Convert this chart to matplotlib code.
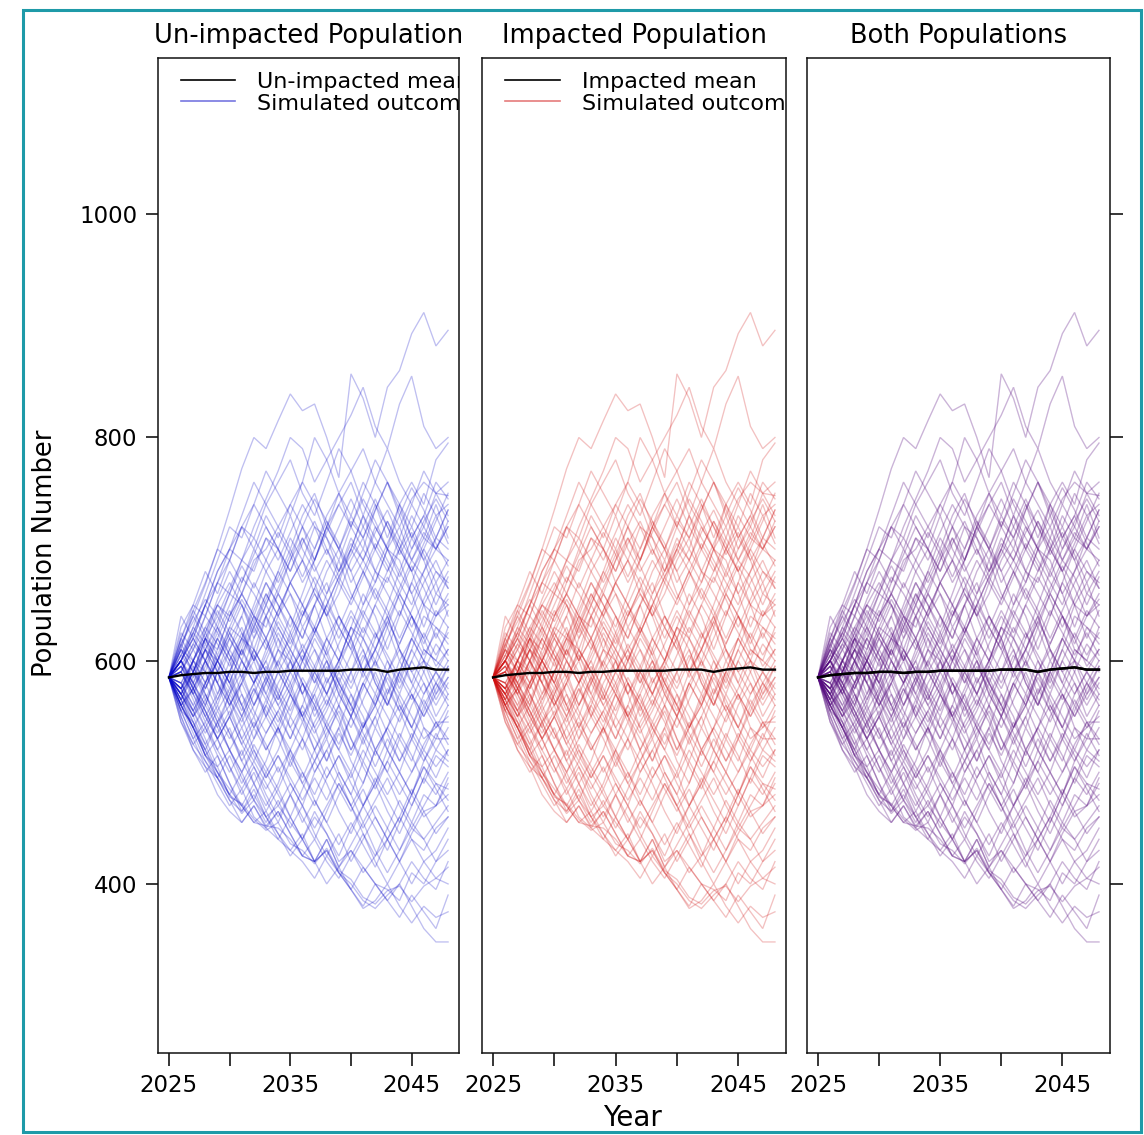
import matplotlib
matplotlib.use("Agg")
import matplotlib.pyplot as plt
from matplotlib.patches import Rectangle

plt.rcParams['font.family'] = ['DejaVu Sans']

years = list(range(2025, 2049))

panel_titles = ["Un-impacted Population", "Impacted Population", "Both Populations"]
legend_unimpacted = ["Un-impacted mean", "Simulated outcomes"]
legend_impacted = ["Impacted mean", "Simulated outcomes"]
x_ticks = [2025, 2030, 2035, 2040, 2045]
x_tick_labels = ["2025", "", "2035", "", "2045"]
y_ticks = [400, 600, 800, 1000]
y_tick_labels = ["400", "600", "800", "1000"]

unimpacted_mean = [585, 587, 588, 589, 589, 590, 590, 589, 590, 590, 591, 591,
                   591, 591, 591, 592, 592, 592, 590, 592, 593, 594, 592, 592]
impacted_mean = [585, 587, 588, 589, 589, 590, 590, 589, 590, 590, 591, 591,
                 591, 591, 591, 592, 592, 592, 590, 592, 593, 594, 592, 592]

unimpacted_sims = [
    [585, 612, 640, 668, 700, 735, 772, 800, 790, 815, 839, 824, 830, 800, 764, 857, 835, 800, 845, 860, 893, 912, 882, 896],
    [585, 600, 625, 650, 680, 700, 690, 720, 745, 770, 800, 790, 760, 780, 800, 820, 845, 810, 790, 830, 855, 810, 790, 800],
    [585, 630, 650, 640, 670, 700, 720, 710, 740, 760, 780, 750, 730, 760, 790, 770, 740, 720, 700, 740, 760, 740, 780, 795],
    [585, 570, 600, 620, 610, 640, 660, 690, 700, 720, 740, 760, 800, 780, 750, 770, 790, 760, 740, 720, 745, 760, 750, 748],
    [585, 605, 590, 620, 650, 640, 670, 700, 680, 660, 690, 720, 700, 730, 750, 720, 700, 735, 760, 740, 710, 730, 760, 745],
    [585, 560, 580, 610, 600, 630, 620, 650, 680, 700, 670, 690, 720, 710, 680, 700, 730, 700, 680, 710, 740, 720, 700, 720],
    [585, 620, 600, 580, 610, 640, 660, 640, 670, 650, 630, 660, 690, 720, 700, 680, 650, 670, 700, 690, 660, 680, 710, 700],
    [585, 600, 620, 650, 630, 610, 640, 670, 650, 680, 710, 690, 660, 640, 670, 700, 730, 710, 690, 670, 650, 680, 700, 690],
    [585, 575, 600, 590, 560, 590, 620, 610, 640, 660, 640, 620, 650, 680, 700, 670, 690, 720, 700, 680, 710, 690, 660, 680],
    [585, 610, 590, 620, 640, 620, 600, 630, 660, 640, 670, 690, 670, 640, 660, 690, 710, 680, 660, 640, 670, 700, 680, 670],
    [585, 590, 570, 600, 630, 660, 650, 620, 640, 610, 640, 620, 650, 670, 640, 620, 650, 680, 670, 700, 680, 650, 640, 660],
    [585, 565, 590, 620, 600, 580, 610, 640, 630, 660, 640, 610, 630, 660, 690, 660, 640, 620, 650, 680, 660, 630, 660, 650],
    [585, 600, 625, 610, 590, 620, 600, 580, 610, 640, 660, 630, 650, 620, 600, 630, 660, 640, 610, 640, 670, 650, 620, 645],
    [585, 570, 550, 580, 600, 620, 640, 610, 590, 620, 600, 630, 610, 580, 600, 630, 620, 650, 630, 600, 620, 650, 670, 640],
    [585, 600, 580, 560, 590, 610, 590, 620, 650, 630, 610, 640, 660, 640, 610, 590, 620, 600, 630, 660, 640, 610, 600, 630],
    [585, 615, 640, 620, 600, 580, 610, 590, 570, 600, 620, 600, 580, 610, 640, 620, 590, 570, 600, 580, 610, 640, 630, 620],
    [585, 560, 575, 600, 580, 610, 630, 600, 620, 590, 570, 600, 630, 610, 580, 560, 590, 620, 640, 610, 590, 600, 630, 615],
    [585, 595, 570, 590, 620, 600, 570, 550, 580, 610, 600, 570, 590, 620, 600, 630, 610, 580, 560, 590, 620, 600, 590, 610],
    [585, 575, 600, 620, 590, 560, 580, 610, 590, 570, 600, 580, 550, 570, 600, 620, 590, 610, 640, 610, 580, 560, 580, 600],
    [585, 600, 575, 550, 570, 600, 620, 600, 640, 620, 590, 610, 580, 600, 570, 550, 580, 600, 570, 590, 620, 600, 570, 595],
    [585, 570, 590, 610, 580, 550, 570, 540, 560, 590, 610, 590, 620, 600, 570, 590, 560, 540, 570, 600, 580, 610, 600, 590],
    [585, 600, 620, 600, 570, 590, 560, 580, 600, 570, 550, 580, 560, 530, 560, 590, 610, 580, 560, 590, 570, 550, 570, 585],
    [585, 560, 540, 560, 590, 570, 600, 580, 550, 580, 600, 570, 540, 560, 590, 570, 540, 560, 590, 570, 600, 580, 560, 580],
    [585, 595, 580, 560, 540, 570, 590, 560, 580, 600, 580, 550, 570, 540, 520, 550, 580, 560, 590, 560, 540, 570, 590, 575],
    [585, 575, 555, 580, 600, 580, 560, 530, 550, 570, 540, 560, 590, 570, 550, 520, 540, 570, 550, 530, 560, 580, 550, 570],
    [585, 600, 580, 555, 530, 550, 580, 600, 570, 550, 530, 560, 540, 510, 540, 570, 550, 520, 540, 570, 550, 530, 540, 560],
    [585, 565, 590, 570, 545, 560, 530, 550, 520, 540, 570, 550, 520, 540, 560, 530, 510, 540, 520, 550, 570, 540, 530, 555],
    [585, 580, 560, 540, 560, 535, 510, 530, 560, 540, 510, 530, 560, 540, 520, 500, 530, 550, 520, 500, 530, 560, 540, 550],
    [585, 560, 540, 520, 545, 570, 550, 520, 500, 520, 550, 530, 500, 520, 540, 510, 490, 520, 500, 530, 510, 540, 520, 540],
    [585, 590, 565, 540, 520, 540, 510, 490, 510, 540, 520, 490, 510, 530, 500, 480, 510, 490, 520, 500, 480, 510, 530, 530],
    [585, 570, 550, 570, 545, 520, 500, 520, 495, 515, 490, 470, 500, 520, 495, 470, 490, 520, 500, 480, 500, 520, 505, 520],
    [585, 555, 530, 545, 520, 500, 520, 490, 470, 490, 520, 500, 475, 455, 480, 500, 470, 490, 510, 490, 470, 495, 520, 510],
    [585, 580, 555, 530, 505, 520, 495, 475, 500, 480, 460, 485, 510, 490, 465, 445, 470, 490, 465, 445, 470, 495, 480, 500],
    [585, 565, 540, 515, 530, 505, 480, 500, 475, 455, 480, 460, 440, 465, 490, 470, 445, 425, 450, 475, 455, 480, 470, 495],
    [585, 545, 525, 540, 515, 490, 470, 490, 465, 485, 460, 440, 465, 445, 425, 450, 470, 450, 430, 455, 480, 460, 470, 490],
    [585, 575, 550, 525, 500, 480, 500, 475, 455, 475, 450, 470, 445, 425, 445, 420, 440, 460, 440, 420, 445, 465, 470, 480],
    [585, 550, 520, 500, 515, 490, 465, 485, 460, 440, 460, 440, 420, 440, 415, 435, 455, 430, 410, 430, 450, 440, 455, 470],
    [585, 560, 535, 510, 490, 470, 485, 460, 450, 465, 445, 425, 440, 420, 405, 425, 445, 420, 400, 420, 440, 430, 450, 460],
    [585, 570, 545, 520, 495, 475, 455, 470, 452, 465, 445, 425, 420, 440, 415, 430, 410, 425, 440, 420, 400, 420, 430, 450],
    [585, 555, 530, 505, 495, 480, 463, 475, 460, 470, 455, 440, 460, 445, 420, 430, 415, 400, 395, 385, 410, 400, 420, 440],
    [585, 545, 520, 505, 480, 465, 455, 470, 450, 440, 430, 445, 420, 430, 410, 395, 415, 400, 385, 400, 420, 405, 395, 420],
    [585, 555, 545, 515, 505, 478, 472, 458, 448, 455, 436, 430, 418, 432, 412, 404, 388, 382, 394, 398, 384, 398, 405, 400],
    [585, 550, 525, 510, 495, 475, 465, 480, 460, 445, 425, 440, 420, 400, 415, 395, 380, 400, 385, 370, 390, 375, 360, 390],
    [585, 565, 540, 515, 500, 485, 470, 455, 465, 445, 430, 420, 405, 425, 410, 395, 378, 385, 400, 380, 365, 380, 370, 375],
    [585, 560, 540, 520, 500, 480, 470, 455, 452, 450, 440, 425, 420, 430, 410, 400, 385, 378, 390, 400, 380, 360, 348, 348],
    [585, 620, 650, 680, 660, 690, 720, 700, 730, 710, 740, 720, 690, 720, 750, 730, 760, 740, 710, 740, 720, 750, 730, 740],
    [585, 640, 620, 650, 680, 700, 730, 760, 740, 720, 700, 730, 750, 720, 700, 730, 710, 740, 720, 700, 730, 710, 700, 720],
    [585, 610, 645, 670, 700, 690, 720, 740, 770, 750, 730, 760, 740, 710, 690, 720, 750, 780, 760, 730, 700, 720, 750, 730],
    [585, 600, 630, 660, 690, 720, 710, 740, 720, 700, 680, 710, 690, 720, 740, 760, 730, 760, 790, 760, 740, 770, 750, 760],
    [585, 625, 610, 640, 670, 660, 690, 680, 710, 700, 730, 700, 680, 700, 680, 710, 690, 670, 700, 720, 690, 710, 740, 710],
    [585, 595, 615, 640, 625, 650, 675, 660, 640, 665, 690, 710, 685, 660, 680, 705, 690, 715, 735, 710, 690, 715, 700, 725],
    [585, 570, 590, 575, 600, 625, 605, 630, 655, 680, 660, 640, 665, 690, 670, 650, 675, 700, 725, 700, 680, 705, 730, 705],
    [585, 605, 630, 615, 645, 625, 605, 635, 615, 595, 625, 650, 675, 655, 630, 655, 680, 660, 640, 665, 690, 675, 650, 675],
    [585, 580, 600, 630, 615, 595, 620, 645, 670, 650, 625, 600, 625, 650, 675, 700, 680, 655, 680, 700, 720, 695, 670, 690],
    [585, 615, 595, 575, 600, 625, 650, 630, 610, 635, 615, 640, 665, 645, 620, 645, 625, 650, 675, 655, 630, 655, 680, 665],
    [585, 590, 610, 590, 565, 590, 615, 640, 620, 595, 575, 600, 625, 605, 580, 605, 630, 610, 635, 660, 640, 615, 640, 655],
    [585, 565, 585, 610, 630, 605, 585, 560, 585, 610, 590, 615, 595, 570, 595, 620, 645, 625, 600, 575, 600, 625, 605, 625],
    [585, 600, 580, 600, 625, 605, 585, 610, 590, 565, 590, 570, 595, 620, 640, 615, 590, 610, 590, 615, 640, 620, 595, 610],
    [585, 575, 555, 575, 600, 580, 555, 580, 600, 625, 605, 580, 555, 580, 600, 580, 605, 585, 560, 585, 565, 590, 615, 600],
    [585, 590, 570, 545, 565, 590, 610, 585, 565, 590, 570, 545, 570, 595, 575, 550, 575, 600, 580, 555, 575, 600, 580, 565],
    [585, 610, 590, 610, 590, 565, 545, 570, 595, 575, 555, 580, 560, 585, 560, 540, 565, 590, 565, 545, 570, 550, 575, 595],
    [585, 580, 600, 580, 555, 575, 550, 575, 555, 535, 560, 585, 565, 545, 570, 550, 525, 550, 575, 555, 530, 555, 580, 560],
    [585, 570, 550, 565, 590, 565, 540, 560, 585, 560, 540, 520, 545, 565, 545, 520, 545, 520, 540, 560, 540, 520, 545, 530],
    [585, 595, 575, 555, 535, 555, 530, 510, 535, 555, 575, 550, 530, 510, 535, 515, 540, 560, 535, 510, 530, 510, 535, 515],
    [585, 575, 595, 570, 550, 530, 550, 575, 550, 530, 505, 530, 510, 535, 555, 530, 505, 485, 510, 535, 515, 490, 515, 505],
    [585, 565, 545, 525, 545, 520, 500, 525, 505, 485, 510, 490, 470, 495, 515, 495, 520, 500, 480, 500, 480, 505, 490, 475],
    [585, 600, 575, 555, 530, 550, 525, 545, 525, 500, 520, 545, 520, 495, 515, 490, 470, 495, 475, 455, 480, 505, 485, 465],
    [585, 570, 590, 565, 540, 520, 540, 515, 495, 515, 495, 475, 495, 475, 500, 480, 455, 475, 495, 470, 450, 470, 490, 485],
    [585, 560, 575, 550, 530, 550, 525, 505, 485, 505, 480, 500, 480, 505, 485, 465, 485, 460, 440, 460, 485, 465, 445, 460],
    [585, 590, 610, 630, 650, 635, 660, 640, 620, 645, 670, 650, 625, 650, 630, 610, 640, 665, 645, 620, 645, 670, 690, 665],
    [585, 605, 625, 650, 670, 690, 670, 695, 720, 700, 680, 705, 725, 700, 675, 695, 720, 745, 720, 695, 715, 690, 710, 735],
    [585, 620, 645, 625, 655, 680, 660, 685, 710, 690, 715, 740, 720, 695, 720, 745, 720, 700, 725, 705, 680, 700, 725, 750],
    [585, 600, 585, 610, 635, 660, 685, 665, 690, 715, 695, 670, 690, 715, 740, 720, 745, 725, 700, 675, 700, 725, 745, 725],
    [585, 575, 600, 625, 650, 670, 650, 625, 650, 675, 700, 675, 700, 725, 705, 680, 700, 680, 705, 730, 755, 735, 710, 735],
    [585, 610, 600, 625, 605, 630, 655, 635, 660, 640, 620, 645, 625, 650, 675, 655, 680, 705, 685, 660, 685, 665, 640, 650],
    [585, 590, 615, 600, 620, 645, 625, 600, 620, 645, 670, 650, 630, 605, 630, 610, 585, 610, 635, 615, 640, 620, 645, 630],
    [585, 575, 590, 615, 595, 575, 600, 580, 605, 630, 610, 590, 610, 590, 615, 640, 620, 595, 620, 645, 625, 605, 625, 605],
    [585, 595, 575, 600, 580, 560, 585, 605, 585, 565, 590, 610, 590, 570, 595, 575, 600, 625, 605, 585, 610, 590, 565, 585],
    [585, 580, 560, 580, 605, 585, 560, 540, 565, 545, 570, 550, 575, 600, 580, 555, 580, 560, 585, 565, 540, 565, 545, 545],
    [585, 570, 555, 535, 555, 535, 515, 540, 520, 540, 515, 495, 520, 545, 525, 550, 530, 505, 530, 510, 535, 515, 495, 520],
    [585, 600, 620, 600, 580, 560, 580, 555, 535, 555, 530, 555, 535, 555, 580, 560, 535, 515, 540, 520, 500, 525, 545, 525],
    [585, 560, 540, 515, 495, 515, 490, 510, 490, 470, 490, 470, 450, 470, 490, 470, 450, 470, 450, 430, 455, 440, 420, 430],
    [585, 590, 570, 550, 530, 505, 485, 505, 480, 460, 480, 455, 475, 455, 435, 455, 435, 415, 440, 460, 440, 420, 405, 415],
    [585, 615, 635, 655, 640, 665, 690, 710, 690, 670, 695, 720, 745, 725, 700, 725, 710, 735, 760, 735, 710, 730, 705, 685],
    [585, 555, 575, 595, 620, 600, 625, 605, 580, 560, 580, 605, 585, 560, 585, 560, 540, 565, 590, 610, 590, 570, 590, 570],
]
impacted_sims = [list(s) for s in unimpacted_sims]

BLUE = "#0808c8"
RED = "#d01010"
PURPLE = "#560c80"
SIM_ALPHA = 0.26
SIM_LW = 0.95

W, H = 1144, 1135
fig = plt.figure(figsize=(W / 100, H / 100), dpi=100)

# teal frame
fig.patches.append(Rectangle((23 / W, 1 - 1132 / H), (1141 - 23) / W, (1132 - 10) / H,
                             transform=fig.transFigure, fill=False,
                             edgecolor="#1e9aa8", linewidth=2.2, zorder=0))

panel_px = [(158, 459), (482, 786), (807, 1110)]
top_px, bot_px = 58, 1053
axes = []
for (l, r) in panel_px:
    ax = fig.add_axes([l / W, 1 - bot_px / H, (r - l) / W, (bot_px - top_px) / H])
    axes.append(ax)

def style(ax, title, left_labels=False, right_ticks=False, left_ticks=False):
    ax.set_xlim(2024.1, 2048.9)
    ax.set_ylim(248.5, 1140)
    for s in ax.spines.values():
        s.set_linewidth(1.1)
        s.set_color("#111111")
    ax.set_xticks(x_ticks)
    ax.set_xticklabels(x_tick_labels)
    ax.tick_params(axis='x', direction='out', length=9, width=1.1, labelsize=16.5, pad=6)
    ax.set_yticks(y_ticks)
    if left_labels:
        ax.set_yticklabels(y_tick_labels)
    else:
        ax.set_yticklabels([])
    ax.tick_params(axis='y', direction='out', length=9, width=1.1, labelsize=16.5, pad=6,
                   left=left_ticks, right=right_ticks, labelleft=left_labels, labelright=False)
    ax.set_title(title, fontsize=18.5, pad=11)

def draw_sims(ax, sims, color, alpha=SIM_ALPHA):
    for s in sims:
        ax.plot(years, s, color=color, alpha=alpha, lw=SIM_LW, solid_joinstyle='miter')

def draw_legend(ax, labels, sim_color):
    ax.plot([0.075, 0.255], [0.978, 0.978], transform=ax.transAxes, color="black", lw=1.2)
    ax.plot([0.075, 0.255], [0.9565, 0.9565], transform=ax.transAxes, color=sim_color,
            alpha=0.55, lw=1.2)
    ax.text(0.33, 0.976, labels[0], transform=ax.transAxes, fontsize=16,
            va='center', ha='left', clip_on=True)
    ax.text(0.33, 0.954, labels[1], transform=ax.transAxes, fontsize=16,
            va='center', ha='left', clip_on=True)

ax1, ax2, ax3 = axes
draw_sims(ax1, unimpacted_sims, BLUE)
ax1.plot(years, unimpacted_mean, color="black", lw=1.7)
draw_legend(ax1, legend_unimpacted, BLUE)
style(ax1, panel_titles[0], left_labels=True, left_ticks=True)

draw_sims(ax2, impacted_sims, RED)
ax2.plot(years, impacted_mean, color="black", lw=1.7)
draw_legend(ax2, legend_impacted, RED)
style(ax2, panel_titles[1])

# both populations overlap: drawn in the blended purple
draw_sims(ax3, unimpacted_sims, PURPLE, alpha=0.17)
draw_sims(ax3, impacted_sims, PURPLE, alpha=0.17)
ax3.plot(years, unimpacted_mean, color="black", lw=1.7)
ax3.plot(years, impacted_mean, color="black", lw=1.7)
style(ax3, panel_titles[2], right_ticks=True)

fig.text(45 / W, 1 - 553 / H, "Population Number", rotation=90, fontsize=18.5,
         ha='center', va='center')
fig.text(632 / W, 1 - 1118 / H, "Year", fontsize=20, ha='center', va='center')

fig.savefig("out.png", dpi=100)
